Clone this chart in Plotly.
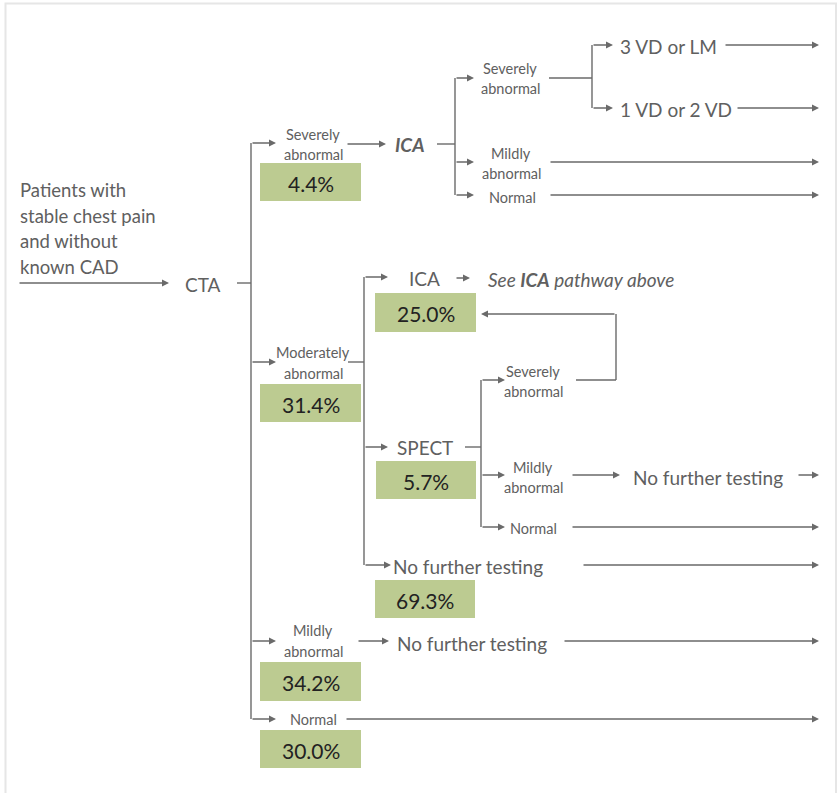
import plotly.graph_objects as go

# ---------------- data ----------------
intro_lines = ["Patients with", "stable chest pain", "and without", "known CAD"]
test_names = ["CTA", "ICA", "ICA", "SPECT"]
outcome_labels = ["Severely abnormal", "Moderately abnormal", "Mildly abnormal", "Normal"]
vd_labels = ["3 VD or LM", "1 VD or 2 VD"]
followup_label = "No further testing"
ica_ref_label = "See <b>ICA</b> pathway above"
pct_values = [4.4, 31.4, 25.0, 5.7, 69.3, 34.2, 30.0]
pct_labels = [f"{v:.1f}%" for v in pct_values]

# ---------------- style ----------------
FONT = "Lato"
TXT = "#606060"
LINE = "#6a6a6a"
GREEN = "#bccb91"
W, H = 837, 793

fig = go.Figure()
fig.add_trace(go.Scatter(x=[0, W], y=[0, H], mode="markers",
                         marker=dict(opacity=0), hoverinfo="skip", showlegend=False))

shapes = []
annos = []


def line(x0, y0, x1, y1):
    shapes.append(dict(type="line", x0=x0, y0=y0, x1=x1, y1=y1,
                       line=dict(color=LINE, width=1.4), xref="x", yref="y"))


def arrow(x0, y0, x1, y1):
    annos.append(dict(x=x1, y=y1, ax=x0, ay=y0, xref="x", yref="y", axref="x", ayref="y",
                      text="", showarrow=True, arrowhead=2, arrowsize=1.0, arrowwidth=1.4,
                      arrowcolor=LINE, standoff=0, startstandoff=0))


def text(x, y, s, size=19, anchor="left", color=TXT, italic=False):
    if italic:
        s = "<i>" + s + "</i>"
    annos.append(dict(x=x, y=y, xref="x", yref="y", text=s, showarrow=False,
                      xanchor=anchor, yanchor="middle",
                      font=dict(family=FONT, size=size, color=color)))


def label2(x, y_top, s, size=14.5, gap=20):
    parts = s.split(" ")
    text(x, y_top, parts[0], size=size, anchor="center")
    text(x, y_top + gap, parts[1], size=size, anchor="center")


def pbox(x0, y0, x1, y1, s):
    shapes.append(dict(type="rect", x0=x0, y0=y0, x1=x1, y1=y1, xref="x", yref="y",
                       fillcolor=GREEN, line=dict(width=0), layer="below"))
    text((x0 + x1) / 2, (y0 + y1) / 2 + 1, s, size=21, anchor="center", color="#222222")


# outer frame
shapes.append(dict(type="rect", x0=5.5, y0=3.5, x1=836, y1=820, xref="x", yref="y",
                   line=dict(color="#e6e6e6", width=2), fillcolor="rgba(0,0,0,0)"))

# intro
for i, s in enumerate(intro_lines):
    text(18, 190 + i * 25.7, s, size=18.5)
arrow(18, 283, 169, 283)
text(183, 284, test_names[0])
line(237, 283, 251, 283)
line(251, 143, 251, 719)

# CTA -> severely abnormal
arrow(251, 143, 276, 143)
label2(313, 134, outcome_labels[0])
pbox(260, 163, 361, 201, pct_labels[0])
arrow(346, 144, 386, 144)
text(393, 144, "<b><i>" + test_names[1] + "</i></b>")
line(437, 144, 455, 144)
line(455, 78, 455, 195)

# ICA results
arrow(455, 78, 474, 78)
label2(510, 68, outcome_labels[0])
line(549, 78, 592, 78)
line(592, 45, 592, 108)
arrow(592, 45, 613, 45)
arrow(592, 108, 613, 108)
text(618, 46, vd_labels[0])
text(618, 109, vd_labels[1])
arrow(724, 45, 819, 45)
arrow(736, 108, 819, 108)
arrow(455, 162, 474, 162)
label2(511, 153, outcome_labels[2])
arrow(549, 162, 819, 162)
arrow(455, 195, 474, 195)
text(512, 197, outcome_labels[3], size=14.5, anchor="center")
arrow(549, 195, 819, 195)

# CTA -> moderately abnormal
arrow(251, 362, 276, 362)
label2(313, 352, outcome_labels[1], gap=21)
line(348, 362, 364, 362)
pbox(260, 384, 361, 422, pct_labels[1])
line(364, 277, 364, 565)

arrow(364, 277, 388, 277)
text(407, 278, test_names[2])
arrow(455, 278, 470, 278)
text(486, 279, ica_ref_label, italic=True)
pbox(375, 293, 476, 332, pct_labels[2])

arrow(616, 314, 481, 314)
line(616, 314, 616, 380)
line(576, 380, 616, 380)

arrow(364, 447, 388, 447)
text(395, 447, test_names[3])
line(465, 447, 481, 447)
line(481, 380, 481, 527)
pbox(376, 461, 476, 499, pct_labels[3])

arrow(481, 380, 505, 380)
label2(533, 371, outcome_labels[0])
arrow(481, 475, 505, 475)
label2(533, 467, outcome_labels[2])
arrow(571, 475, 620, 475)
text(631, 477, followup_label)
arrow(797, 475, 819, 475)
arrow(481, 527, 505, 527)
text(533, 528, outcome_labels[3], size=14.5, anchor="center")
arrow(571, 527, 819, 527)

arrow(364, 565, 391, 565)
text(391, 566, followup_label)
arrow(582, 565, 819, 565)
pbox(375, 580, 475, 618, pct_labels[4])

# CTA -> mildly abnormal
arrow(251, 641, 276, 641)
label2(313, 630, outcome_labels[2], gap=21)
arrow(357, 641, 389, 641)
text(395, 643, followup_label)
arrow(563, 641, 819, 641)
pbox(260, 662, 361, 701, pct_labels[5])

# CTA -> normal
arrow(251, 719, 276, 719)
text(313, 719, outcome_labels[3], size=14.5, anchor="center")
arrow(345, 719, 819, 719)
pbox(260, 730, 361, 768, pct_labels[6])

fig.update_layout(
    width=W, height=H, margin=dict(l=0, r=0, t=0, b=0),
    paper_bgcolor="white", plot_bgcolor="white",
    xaxis=dict(range=[0, W], visible=False, fixedrange=True),
    yaxis=dict(range=[H, 0], visible=False, fixedrange=True),
    shapes=shapes, annotations=annos, showlegend=False,
)
fig.write_html("out.html", config={"displayModeBar": False},
               post_script="document.body.style.margin='0px';document.body.style.overflow='hidden';")
